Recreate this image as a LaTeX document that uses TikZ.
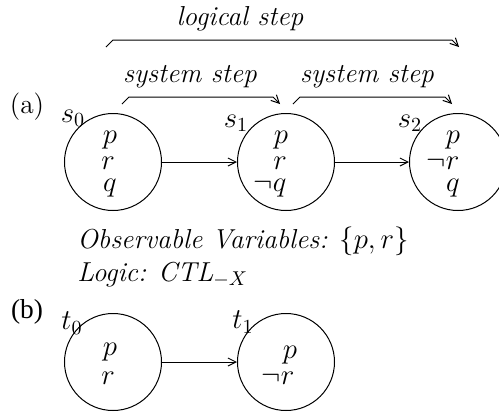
\documentclass[tikz,border=0pt]{standalone}
\usepackage{fontspec}
\newfontfamily\labelfont{Liberation Serif}
\usetikzlibrary{arrows.meta,calc}
\newcommand{\figfont}{\fontsize{13.7pt}{16pt}\selectfont}

\begin{document}
\begin{tikzpicture}[x=0.5pt,y=-0.5pt,state/.style={circle,draw,line width=0.5pt,minimum size=48.5pt,inner sep=0pt},var/.style={font=\figfont,inner sep=0pt,anchor=base},statename/.style={font=\figfont,inner sep=0pt},steptext/.style={font=\figfont\itshape,inner sep=0pt},trans/.style={-{Straight Barb[length=4pt,width=4pt]},line width=0.5pt}]
\useasboundingbox (0,0) rectangle (499,413);
% part (a)
\node[font=\figfont,inner sep=0pt] (a) at (27,107) {(a)};
\node[state] (s0) at (113,162) {};
\node[state] (s1) at (286,162) {};
\node[state] (s2) at (458,162) {};
\node[statename] (s0name) at (73,118) {$s_0$};
\node[statename] (s1name) at (236,123) {$s_1$};
\node[statename] (s2name) at (410,123) {$s_2$};
\node[var] (s0p) at (110,143) {$p$};
\node[var] (s0r) at (108,169) {$r$};
\node[var] (s0q) at (110,191) {$q$};
\node[var] (s1p) at (281,143) {$p$};
\node[var] (s1r) at (280,169) {$r$};
\node[var] (s1q) at (270,191) {$\neg q$};
\node[var] (s2p) at (453,143) {$p$};
\node[var] (s2r) at (443,169) {$\neg r$};
\node[var] (s2q) at (453,191) {$q$};
\draw[trans] (s0) -- (s1);
\draw[trans] (s1) -- (s2);
% steps
\coordinate (sysA1) at (122,104);
\coordinate (sysA2) at (280,104);
\coordinate (sysB1) at (293,104);
\coordinate (sysB2) at (452,104);
\coordinate (logA) at (106,47);
\coordinate (logB) at (459,47);
\draw[trans] (sysA1) -- ++(7,-7) -- ($(sysA2)+(-7,-7)$) -- (sysA2);
\draw[trans] (sysB1) -- ++(7,-7) -- ($(sysB2)+(-7,-7)$) -- (sysB2);
\draw[trans] (logA) -- ++(7,-7) -- ($(logB)+(-7,-7)$) -- (logB);
\node[steptext,anchor=base] (sysAtext) at (190,82) {system step};
\node[steptext,anchor=base] (sysBtext) at (367,82) {system step};
\node[steptext,anchor=base] (logtext) at (240,25) {logical step};
% observations
\node[font=\figfont,inner sep=0pt,anchor=base west] (obs) at (77,248) {\textit{Observable Variables:} $\{p,r\}$};
\node[font=\figfont,inner sep=0pt,anchor=base west] (logic) at (77,281) {\textit{Logic:} $\mathit{CTL}_{-X}$};
% part (b)
\node[font=\figfont\labelfont,inner sep=0pt] (b) at (27,312) {(b)};
\node[state] (t0) at (113,362) {};
\node[state] (t1) at (286,362) {};
\node[statename] (t0name) at (72,323) {$t_0$};
\node[statename] (t1name) at (243,322) {$t_1$};
\node[var] (t0p) at (110,355) {$p$};
\node[var] (t0r) at (108,384) {$r$};
\node[var] (t1p) at (290,358) {$p$};
\node[var] (t1r) at (278,384) {$\neg r$};
\draw[trans] (t0) -- (t1);
\end{tikzpicture}
\end{document}
